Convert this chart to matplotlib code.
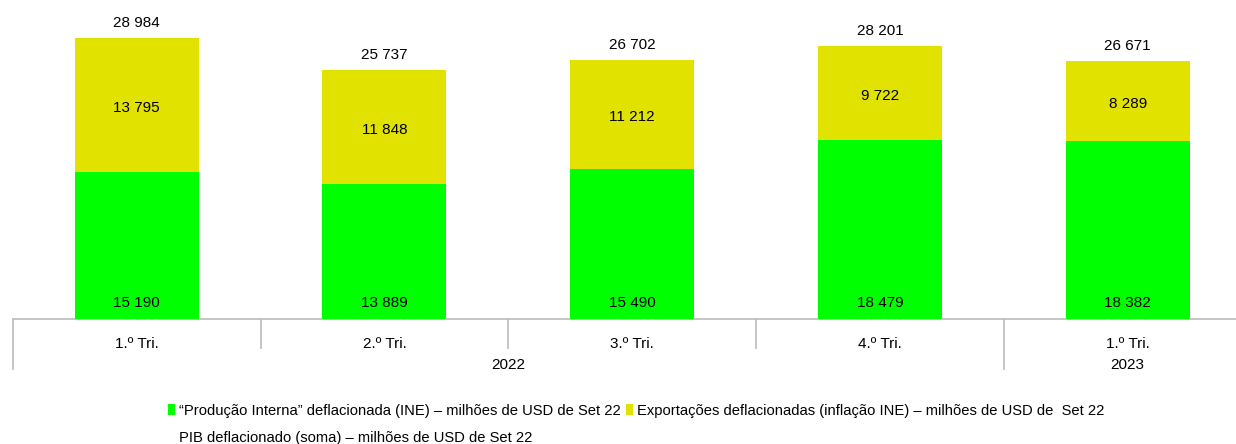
import matplotlib
matplotlib.use("Agg")
import matplotlib.pyplot as plt
from matplotlib.patches import Patch
from matplotlib import font_manager as fm

names = {f.name for f in fm.fontManager.ttflist}
fam = ['Liberation Sans Narrow', 'Liberation Sans', 'DejaVu Sans'] if 'Liberation Sans Narrow' in names else ['Liberation Sans', 'DejaVu Sans']
plt.rcParams['font.family'] = fam

# Data
quarters = ["1.º Tri.", "2.º Tri.", "3.º Tri.", "4.º Tri.", "1.º Tri."]
years = ["2022", "2023"]
year_span = [(0, 3), (4, 4)]
producao = [15190, 13889, 15490, 18479, 18382]
exportacoes = [13795, 11848, 11212, 9722, 8289]
pib = [28984, 25737, 26702, 28201, 26671]

lbl_prod = "“Produção Interna” deflacionada (INE) – milhões de USD de Set 22"
lbl_exp = "Exportações deflacionadas (inflação INE) – milhões de USD de  Set 22"
lbl_pib = "PIB deflacionado (soma) – milhões de USD de Set 22"

green = "#00FF00"
yellow = "#E2E200"
grey = "#C0C0C0"

W, H = 1236, 444
fig = plt.figure(figsize=(W / 100, H / 100), dpi=100)
ax_h_px = 309.5
slot = 247.75
ax = fig.add_axes([12.8 / W, (H - 318.5) / H, 5 * slot / W, ax_h_px / H])
ax.set_xlim(-0.5, 4.5)
ax.set_ylim(0, 32000)
ax.axis('off')

x = list(range(len(quarters)))
bw = 0.5
ax.bar(x, producao, width=bw, color=green, zorder=2)
ax.bar(x, exportacoes, width=bw, bottom=producao, color=yellow, zorder=2)

def fmt(v):
    return f"{v:,}".replace(",", " ")

fs = 11
for i in x:
    ax.annotate(fmt(producao[i]), (i, 0), xytext=(0, 16), textcoords='offset pixels',
                ha='center', va='center', fontsize=fs, zorder=3)
    ax.annotate(fmt(exportacoes[i]), (i, producao[i] + exportacoes[i] / 2), xytext=(0, -3),
                textcoords='offset pixels', ha='center', va='center', fontsize=fs, zorder=3)
    ax.annotate(fmt(pib[i]), (i, pib[i]), xytext=(0, 15), textcoords='offset pixels',
                ha='center', va='center', fontsize=fs, zorder=3)

# Category axis
tr = ax.get_xaxis_transform()
px = 1.0 / ax_h_px
ax.plot([-0.5, 5.0], [0, 0], transform=tr, color=grey, lw=1.3, clip_on=False, zorder=1)
year_starts = {s for s, e in year_span}
for b in range(0, 5):
    xb = b - 0.5
    depth = 50.5 if b in year_starts else 29.5
    ax.plot([xb, xb], [0, -depth * px], transform=tr, color=grey, lw=1.3, clip_on=False)
for i, q in enumerate(quarters):
    ax.text(i, -25 * px, q, transform=tr, ha='center', va='center', fontsize=fs)
for (s, e), yname in zip(year_span, years):
    ax.text((s + e) / 2, -46 * px, yname, transform=tr, ha='center', va='center', fontsize=fs)

handles = [Patch(facecolor=green, edgecolor='none'),
           Patch(facecolor='none', edgecolor='none'),
           Patch(facecolor=yellow, edgecolor='none')]
labels = [lbl_prod, lbl_pib, lbl_exp]
fig.legend(handles, labels, ncol=2, loc='upper left', bbox_to_anchor=(168 / W, 1 - 404 / H),
           frameon=False, fontsize=10.6, handlelength=0.45, handleheight=0.75,
           handletextpad=0.3, columnspacing=0.35, labelspacing=0.9, borderaxespad=0, borderpad=0)

fig.savefig("out.png", dpi=100)
